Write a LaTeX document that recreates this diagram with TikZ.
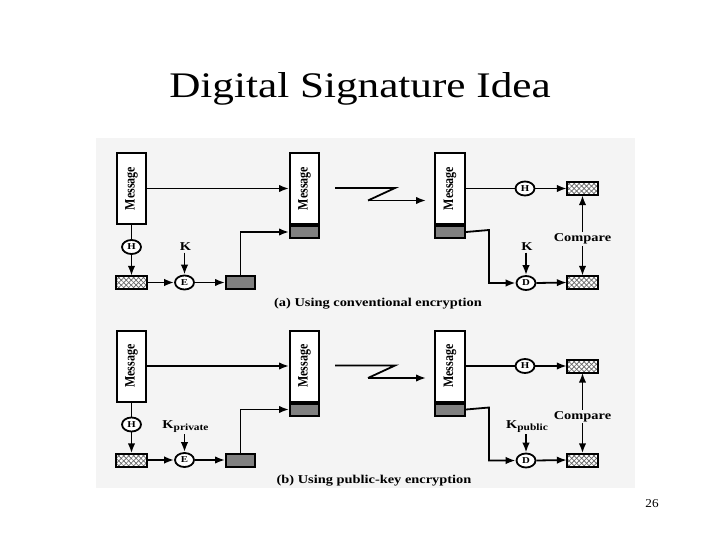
\documentclass[tikz,border=0pt]{standalone}
\usepackage{fontspec}
\setmainfont{Liberation Serif}
\usetikzlibrary{arrows.meta,shapes.geometric,patterns.meta}
\definecolor{panelbg}{HTML}{F4F4F4}
\definecolor{darkfill}{HTML}{808080}
\newcommand\wide[1]{\scalebox{1.2}[1]{#1}}
\newcommand\lblfont{\fontsize{12}{12}\selectfont\bfseries}
\newcommand\msgtext{\rotatebox{90}{\scalebox{1}[1.2]{\lblfont Message}}}
\tikzset{
  msgbox/.style={draw, line width=2pt, fill=white, minimum width=29pt, minimum height=71pt, inner sep=0pt},
  graybox/.style={draw, line width=2pt, fill=darkfill, minimum width=29pt, minimum height=12pt, inner sep=0pt},
  hatchbox/.style={fill=white, minimum width=31pt, minimum height=13pt, inner sep=0pt,
     postaction={pattern={Lines[angle=45,distance=3.5pt,line width=0.7pt]}, pattern color=black!60},
     postaction={pattern={Lines[angle=-45,distance=3.5pt,line width=0.7pt]}, pattern color=black!60},
     postaction={draw, line width=2pt}},
  ellip/.style={ellipse, draw, line width=1.8pt, fill=white, minimum width=19pt, minimum height=14pt, inner sep=0pt,
     font=\fontsize{9}{9}\selectfont\bfseries},
  keylbl/.style={font=\lblfont, inner sep=1.5pt},
  arr/.style={line width=1.8pt, -{Latex[length=10pt,width=7.5pt]}},
  ln/.style={line width=1.8pt},
}
% #1 prefix, #2 shift, #3 left key, #4 right key, #5 caption, #6 caption x
\newcommand\drawpanel[6]{%
\begin{scope}[yshift=-#2pt]
  \node[msgbox] (#1m1) at (131.5,188.5) {\msgtext};
  \node[ellip] (#1h1) at (131.5,247) {\wide{H}};
  \node[hatchbox] (#1x1) at (131.5,282.5) {};
  \node[ellip] (#1e) at (184.5,282.5) {\wide{E}};
  \node[keylbl, anchor=base] (#1k1) at (185.5,251) {\wide{#3}};
  \node[graybox, minimum height=13pt] (#1g1) at (240.5,282.5) {};
  \node[msgbox] (#1m2) at (304.5,188.5) {\msgtext};
  \node[graybox, anchor=north] (#1m2g) at (#1m2.south) {};
  \node[msgbox, minimum width=30pt] (#1m3) at (450,188.5) {\msgtext};
  \node[graybox, minimum width=30pt, anchor=north] (#1m3g) at (#1m3.south) {};
  \node[ellip] (#1h2) at (525,188.5) {\wide{H}};
  \node[hatchbox] (#1xt) at (582.5,188.5) {};
  \node[keylbl] (#1cmp) at (582.5,239) {\wide{Compare}};
  \node[keylbl, anchor=base] (#1k2) at (527,251) {\wide{#4}};
  \node[ellip] (#1d) at (526,283) {\wide{D}};
  \node[hatchbox] (#1xb) at (582.5,282.5) {};
  \node[keylbl, anchor=base] (#1cap) at (#6,306) {\wide{#5}};
  \coordinate (#1z1) at (335,188);
  \coordinate (#1z2) at (395,188);
  \coordinate (#1z3) at (368,200.5);
  \coordinate (#1z4) at (426,200.5);
  \coordinate (#1c1) at (489,230);
  % connectors
  \draw[arr] (#1m1.east) -- (#1m2.west);
  \draw[ln] (#1m1.south) -- (#1h1.north);
  \draw[arr] (#1h1.south) -- (#1x1.north);
  \draw[arr] (#1x1.east) -- (#1e.west);
  \draw[arr] (#1k1.south -| #1e.north) -- (#1e.north);
  \draw[arr] (#1e.east) -- (#1g1.west);
  \draw[arr] (#1g1.north) |- (#1m2g.west);
  \draw[ln, line join=miter] (#1z1) -- (#1z2) -- (#1z3);
  \draw[arr] (#1z3) -- (#1z4);
  \draw[ln] (#1m3.east |- #1h2.west) -- (#1h2.west);
  \draw[arr] (#1h2.east) -- (#1xt.west);
  \draw[arr] (#1m3g.east) -- (#1c1) |- (#1d.west);
  \draw[arr] (#1k2.south -| #1d.north) -- (#1d.north);
  \draw[arr] (#1d.east) -- (#1xb.west);
  \draw[arr] (#1cmp.north) -- (#1xt.south);
  \draw[arr] (#1cmp.south) -- (#1xb.north);
\end{scope}}
\begin{document}
\begin{tikzpicture}[x=1pt,y=-1pt]
  \useasboundingbox (0,0) rectangle (720,540);
  \fill[white] (0,0) rectangle (720,540);
  \fill[panelbg] (96,138) rectangle (635,488);
  \node[anchor=base, inner sep=0pt] (title) at (360,98)
    {\wide{\fontsize{36}{40}\selectfont Digital Signature Idea}};
  \node[inner sep=0pt] (page) at (652,503.5)
    {\scalebox{1.1}[1]{\fontsize{12}{14}\selectfont 26}};
  \drawpanel{a}{0}{K}{K}{(a) Using conventional encryption}{378}
  \drawpanel{b}{177.5}{K\raisebox{-0.35ex}{\fontsize{9.5}{10}\selectfont private}}{K\raisebox{-0.35ex}{\fontsize{9.5}{10}\selectfont public}}{(b) Using public-key encryption}{374}
\end{tikzpicture}
\end{document}
